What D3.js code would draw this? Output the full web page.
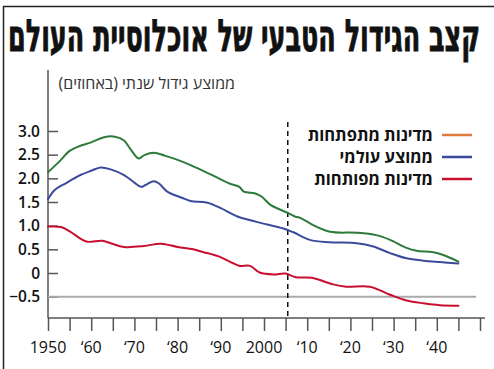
<!DOCTYPE html>
<html lang="he">
<head>
<meta charset="utf-8">
<script src="https://cdn.jsdelivr.net/npm/d3@7"></script>
<style>
  html, body { margin: 0; padding: 0; background: #fff; }
  svg { display: block; }
</style>
</head>
<body>
<svg id="chart" width="494" height="369"></svg>
<script>
// Natural population growth rate, average annual % (1950–2045, projections after the dashed line)
const developingYears  = [1950, 1952, 1953, 1955, 1957, 1960, 1963, 1965.5, 1967.6, 1969, 1971, 1972.3, 1974.5, 1977, 1980, 1983, 1987.5, 1992, 1994.3, 1995.3, 1998, 1999.5, 2001.5, 2005.5, 2007, 2008.5, 2011.4, 2015.3, 2021.5, 2026, 2029.2, 2033, 2035.3, 2039.2, 2041.5, 2045];
const developingValues = [2.13, 2.30, 2.39, 2.58, 2.67, 2.76, 2.87, 2.88, 2.80, 2.63, 2.42, 2.49, 2.54, 2.48, 2.39, 2.28, 2.09, 1.89, 1.82, 1.72, 1.68, 1.61, 1.44, 1.27, 1.20, 1.16, 1.01, 0.87, 0.85, 0.80, 0.70, 0.53, 0.47, 0.44, 0.38, 0.24];

const worldYears  = [1950, 1951.5, 1954, 1957.5, 1960, 1962.2, 1964.5, 1967.6, 1970, 1971.5, 1972.6, 1974.5, 1975.7, 1977.6, 1981, 1983, 1986.7, 1990, 1993.7, 1998.3, 2004.5, 2006.8, 2010.6, 2015.3, 2021.5, 2025.3, 2029.2, 2033, 2036.9, 2040.7, 2045];
const worldValues = [1.56, 1.75, 1.89, 2.07, 2.16, 2.23, 2.19, 2.07, 1.91, 1.82, 1.86, 1.94, 1.89, 1.72, 1.59, 1.52, 1.49, 1.37, 1.20, 1.08, 0.94, 0.86, 0.70, 0.65, 0.63, 0.56, 0.42, 0.31, 0.26, 0.23, 0.20];

const developedYears  = [1950, 1953, 1955.2, 1957.6, 1959.1, 1962.6, 1964.5, 1967.6, 1972.2, 1976.1, 1980, 1983.6, 1986, 1989.5, 1993, 1994.4, 1996.8, 1999, 2002.2, 2004.9, 2007.4, 2011, 2016, 2019, 2024.5, 2029.2, 2033, 2036.9, 2040.7, 2045];
const developedValues = [0.98, 0.97, 0.87, 0.72, 0.66, 0.68, 0.63, 0.55, 0.57, 0.62, 0.55, 0.50, 0.44, 0.35, 0.20, 0.15, 0.15, 0.01, -0.03, -0.01, -0.09, -0.10, -0.24, -0.29, -0.29, -0.46, -0.58, -0.64, -0.68, -0.69];

const yTickValues = [-0.5, 0, 0.5, 1.0, 1.5, 2.0, 2.5, 3.0];
const yTickLabels = ["−0.5", "0", "0.5", "1.0", "1.5", "2.0", "2.5", "3.0"];
const xTickYears  = d3.range(1950, 2051, 5);
const xLabelYears  = [1950, 1960, 1970, 1980, 1990, 2000, 2010, 2020, 2030, 2040];
const xLabelTexts  = ["1950", "‘60", "‘70", "‘80", "‘90", "2000", "‘10", "‘20", "‘30", "‘40"];

const projectionYear = 2005.5;
const referenceLevel = -0.5;

const titleText = "קצב הגידול הטבעי של אוכלוסיית העולם";
const unitText = "ממוצע גידול שנתי (באחוזים)";
const legendLabels = ["מדינות מתפתחות", "ממוצע עולמי", "מדינות מפותחות"];
const legendColors = ["#e07a3c", "#3b4a9c", "#c8102e"];

const svg = d3.select("#chart");
svg.append("rect").attr("width", 494).attr("height", 369).attr("fill", "#fff");

// frame
svg.append("path").attr("d", "M3.5,369 V6.5 H494")
  .attr("fill", "none").attr("stroke", "#222").attr("stroke-width", 1.5);

// title, scaled horizontally to span the width
const titleLeft = 8, titleRight = 480;
const title = svg.append("text")
  .attr("x", 0).attr("y", 0)
  .attr("font-family", "'DejaVu Sans Condensed', 'DejaVu Sans', sans-serif")
  .attr("font-weight", "bold").attr("font-size", 44)
  .attr("fill", "#111").attr("stroke", "#111").attr("stroke-width", 0.9)
  .text(titleText);
const tb = title.node().getBBox();
const sx = (titleRight - titleLeft) / tb.width;
title.attr("transform", `translate(${titleLeft - tb.x * sx},51) scale(${sx},1)`);

const x = d3.scaleLinear().domain([1950, 2050]).range([48, 480]);
const y = d3.scaleLinear().domain([0, 3]).range([273, 131]);

const axisColor = "#555";

// y axis
const yAxis = svg.append("g").attr("transform", "translate(48,0)")
  .call(d3.axisRight(y).tickValues(yTickValues).tickSize(10).tickFormat(""));
yAxis.select(".domain").remove();
yAxis.selectAll(".tick line").attr("stroke", axisColor).attr("stroke-width", 1.5);
svg.append("line").attr("x1", 48).attr("x2", 48).attr("y1", 70).attr("y2", 318)
  .attr("stroke", axisColor).attr("stroke-width", 1.5);

svg.append("g").selectAll("text").data(yTickValues).join("text")
  .attr("x", 40).attr("y", d => y(d) + 5.5)
  .attr("text-anchor", "end")
  .attr("font-family", "'Open Sans', sans-serif").attr("font-weight", 600).attr("font-size", 15.5)
  .attr("fill", "#111")
  .text((d, i) => yTickLabels[i]);

// x axis
const xAxis = svg.append("g").attr("transform", "translate(0,318)")
  .call(d3.axisBottom(x).tickValues(xTickYears).tickSize(13).tickFormat(""));
xAxis.select(".domain").remove();
xAxis.selectAll(".tick line").attr("stroke", axisColor).attr("stroke-width", 1.5);
svg.append("line").attr("x1", 48).attr("x2", 485).attr("y1", 318).attr("y2", 318)
  .attr("stroke", axisColor).attr("stroke-width", 1.5);

svg.append("g").selectAll("text").data(xLabelYears).join("text")
  .attr("x", d => x(d)).attr("y", 353)
  .attr("text-anchor", "middle")
  .attr("font-family", "'Open Sans', sans-serif").attr("font-weight", 500).attr("font-size", 16)
  .attr("fill", "#111")
  .text((d, i) => xLabelTexts[i]);

// unit label
svg.append("text")
  .attr("x", 235).attr("y", 89)
  .attr("direction", "rtl").attr("text-anchor", "start")
  .attr("font-family", "'Open Sans', 'DejaVu Sans', sans-serif").attr("font-size", 16)
  .attr("fill", "#333")
  .text(unitText);

// reference level line
svg.append("line").attr("x1", 48).attr("x2", 476)
  .attr("y1", y(referenceLevel)).attr("y2", y(referenceLevel))
  .attr("stroke", "#aaa").attr("stroke-width", 2);

// projection divider
svg.append("line").attr("x1", x(projectionYear)).attr("x2", x(projectionYear))
  .attr("y1", 122).attr("y2", 318)
  .attr("stroke", "#111").attr("stroke-width", 1.5).attr("stroke-dasharray", "5,4");

const line = d3.line().x(d => x(d[0])).y(d => y(d[1])).curve(d3.curveCatmullRom.alpha(0.5));

const series = [
  { years: developingYears, values: developingValues, color: "#2e7a3a" },
  { years: worldYears, values: worldValues, color: "#3b4a9c" },
  { years: developedYears, values: developedValues, color: "#c8102e" }
];

svg.append("g").selectAll("path").data(series).join("path")
  .attr("d", s => line(s.years.map((yr, i) => [yr, s.values[i]])))
  .attr("fill", "none").attr("stroke", s => s.color).attr("stroke-width", 2)
  .attr("stroke-linejoin", "round").attr("stroke-linecap", "round");

// legend
const legend = svg.append("g");
const legendRows = legend.selectAll("g").data(legendLabels).join("g")
  .attr("transform", (d, i) => `translate(0,${135 + i * 22})`);
legendRows.append("line").attr("x1", 442).attr("x2", 472).attr("y1", 0).attr("y2", 0)
  .attr("stroke", (d, i) => legendColors[i]).attr("stroke-width", 2.5);
legendRows.append("text")
  .attr("x", 433).attr("y", 6)
  .attr("direction", "rtl").attr("text-anchor", "start")
  .attr("font-family", "'Open Sans', 'DejaVu Sans', sans-serif").attr("font-weight", "bold").attr("font-size", 16.5)
  .attr("fill", "#111")
  .text(d => d);
</script>
</body>
</html>
